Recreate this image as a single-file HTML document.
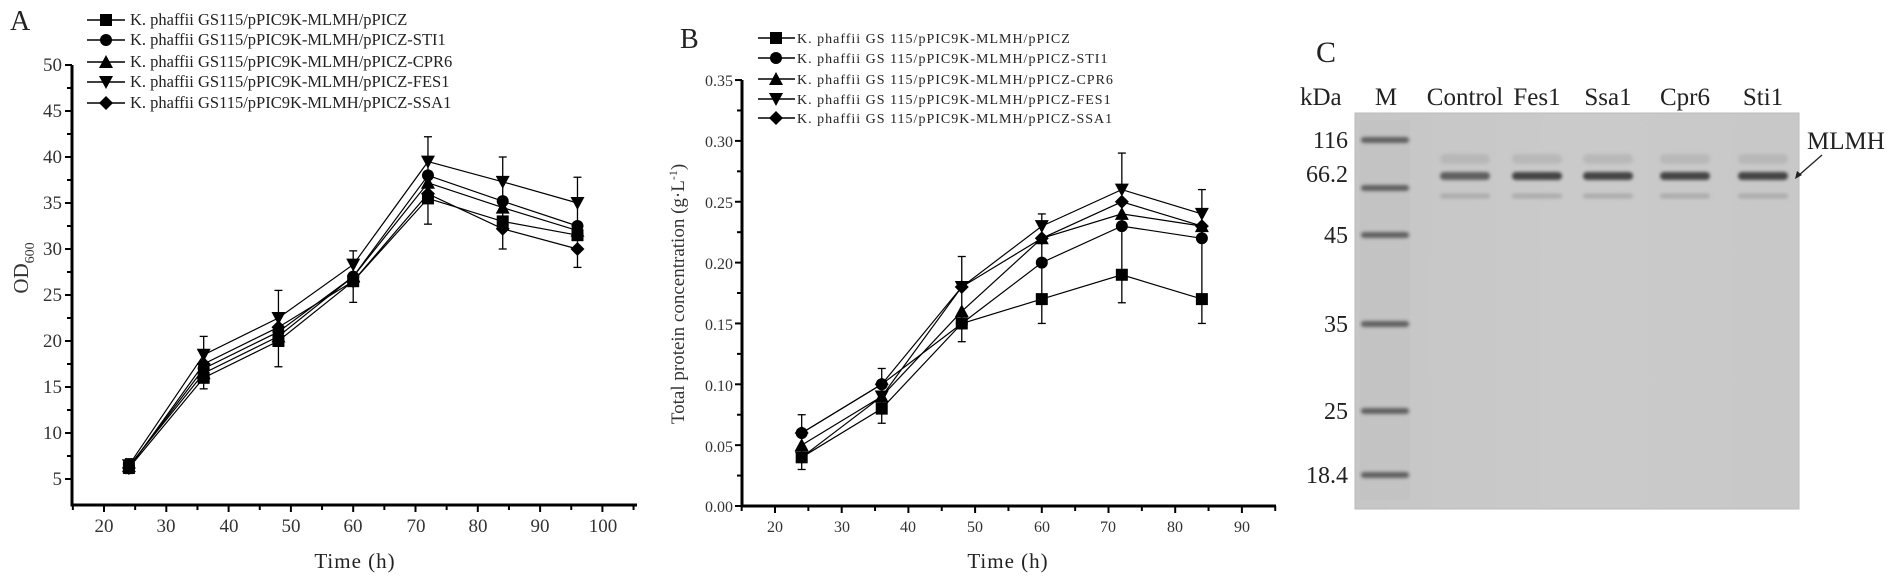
<!DOCTYPE html>
<html><head><meta charset="utf-8"><style>
html,body{margin:0;padding:0;background:#fff;}
svg{display:block;font-family:"Liberation Serif",serif;}
</style></head><body>
<svg id="s" width="1900" height="582" viewBox="0 0 1900 582" xmlns="http://www.w3.org/2000/svg">
<defs>
<linearGradient id="gel" x1="0" y1="0" x2="1" y2="0">
<stop offset="0" stop-color="#c6c6c6"/><stop offset="0.5" stop-color="#cacaca"/><stop offset="1" stop-color="#c8c8c8"/>
</linearGradient>
<filter id="blur" x="-20%" y="-100%" width="140%" height="300%"><feGaussianBlur stdDeviation="1.6"/></filter>
</defs>
<g id="plots" stroke="#000" fill="none"></g>

<!-- Panel A text -->
<text x="10" y="30" font-size="28" fill="#222">A</text>
<g font-size="19" fill="#333" text-anchor="end">
<text x="62" y="71">50</text><text x="62" y="117">45</text><text x="62" y="163">40</text><text x="62" y="209">35</text><text x="62" y="255">30</text><text x="62" y="301">25</text><text x="62" y="347">20</text><text x="62" y="393">15</text><text x="62" y="439">10</text><text x="62" y="485">5</text>
</g>
<g font-size="19" fill="#333" text-anchor="middle">
<text x="104" y="532">20</text><text x="166" y="532">30</text><text x="229" y="532">40</text><text x="291" y="532">50</text><text x="353" y="532">60</text><text x="416" y="532">70</text><text x="478" y="532">80</text><text x="540" y="532">90</text><text x="603" y="532">100</text>
</g>
<text x="355" y="568" font-size="21" fill="#222" text-anchor="middle" letter-spacing="1">Time  (h)</text>
<text transform="translate(28,268) rotate(-90)" font-size="21" fill="#333" text-anchor="middle">OD<tspan font-size="14" dy="6">600</tspan></text>
<g font-size="16.5" fill="#222">
<text x="130" y="25">K. phaffii GS115/pPIC9K-MLMH/pPICZ</text>
<text x="130" y="45">K. phaffii GS115/pPIC9K-MLMH/pPICZ-STI1</text>
<text x="130" y="67">K. phaffii GS115/pPIC9K-MLMH/pPICZ-CPR6</text>
<text x="130" y="87">K. phaffii GS115/pPIC9K-MLMH/pPICZ-FES1</text>
<text x="130" y="108">K. phaffii GS115/pPIC9K-MLMH/pPICZ-SSA1</text>
</g>

<!-- Panel B text -->
<text x="680" y="48" font-size="28" fill="#222">B</text>
<g font-size="16" fill="#333" text-anchor="end">
<text x="733" y="86">0.35</text><text x="733" y="147">0.30</text><text x="733" y="208">0.25</text><text x="733" y="269">0.20</text><text x="733" y="330">0.15</text><text x="733" y="391">0.10</text><text x="733" y="452">0.05</text><text x="733" y="512">0.00</text>
</g>
<g font-size="16" fill="#333" text-anchor="middle">
<text x="775" y="532">20</text><text x="842" y="532">30</text><text x="908" y="532">40</text><text x="975" y="532">50</text><text x="1042" y="532">60</text><text x="1108" y="532">70</text><text x="1175" y="532">80</text><text x="1242" y="532">90</text>
</g>
<text x="1008" y="568" font-size="21" fill="#222" text-anchor="middle" letter-spacing="1">Time  (h)</text>
<text transform="translate(684,294) rotate(-90)" font-size="19" fill="#333" text-anchor="middle">Total protein concentration  (g·L<tspan font-size="12" dy="-7">-1</tspan><tspan dy="7">)</tspan></text>
<g font-size="14" fill="#222" letter-spacing="1">
<text x="797" y="43">K. phaffii GS 115/pPIC9K-MLMH/pPICZ</text>
<text x="797" y="63">K. phaffii GS 115/pPIC9K-MLMH/pPICZ-STI1</text>
<text x="797" y="84">K. phaffii GS 115/pPIC9K-MLMH/pPICZ-CPR6</text>
<text x="797" y="104">K. phaffii GS 115/pPIC9K-MLMH/pPICZ-FES1</text>
<text x="797" y="123">K. phaffii GS 115/pPIC9K-MLMH/pPICZ-SSA1</text>
</g>

<!-- Panel C gel -->
<rect x="1355" y="113" width="444" height="396" fill="url(#gel)"/>
<rect x="1355" y="113" width="444" height="396" fill="none" stroke="#bbb" stroke-width="1"/>
<g id="bands"></g>
<text x="1316" y="62" font-size="30" fill="#222">C</text>
<g font-size="25" fill="#222">
<text x="1300" y="105">kDa</text>
<text x="1386" y="105" text-anchor="middle">M</text>
<text x="1465" y="105" text-anchor="middle">Control</text>
<text x="1537" y="105" text-anchor="middle">Fes1</text>
<text x="1608" y="105" text-anchor="middle">Ssa1</text>
<text x="1685" y="105" text-anchor="middle">Cpr6</text>
<text x="1763" y="105" text-anchor="middle">Sti1</text>
</g>
<g font-size="24" fill="#222" text-anchor="end">
<text x="1348" y="148">116</text>
<text x="1348" y="182">66.2</text>
<text x="1348" y="243">45</text>
<text x="1348" y="332">35</text>
<text x="1348" y="419">25</text>
<text x="1348" y="483">18.4</text>
</g>
<text x="1807" y="149" font-size="25" fill="#222">MLMH</text>
<line x1="1822" y1="155" x2="1798" y2="176" stroke="#222" stroke-width="1.3"/>
<path d="M1795,179 L1797,171 L1802,175 Z" fill="#222"/>

<script>
(function(){
var NS="http://www.w3.org/2000/svg";
var g=document.getElementById('plots');
function el(n,a,p){var e=document.createElementNS(NS,n);for(var k in a)e.setAttribute(k,a[k]);(p||g).appendChild(e);return e;}
function line(x1,y1,x2,y2,w){el('line',{x1:x1,y1:y1,x2:x2,y2:y2,'stroke-width':w||1.2});}
function marker(t,x,y,s){s=s||6;
 if(t==0) el('rect',{x:x-s,y:y-s,width:2*s,height:2*s,fill:'#000',stroke:'none'});
 else if(t==1) el('circle',{cx:x,cy:y,r:s,fill:'#000',stroke:'none'});
 else if(t==2) el('path',{d:'M'+x+','+(y-s-1)+'L'+(x+s+1)+','+(y+s)+'L'+(x-s-1)+','+(y+s)+'Z',fill:'#000',stroke:'none'});
 else if(t==3) el('path',{d:'M'+x+','+(y+s+1)+'L'+(x+s+1)+','+(y-s)+'L'+(x-s-1)+','+(y-s)+'Z',fill:'#000',stroke:'none'});
 else el('path',{d:'M'+x+','+(y-s-1)+'L'+(x+s+1)+','+y+'L'+x+','+(y+s+1)+'L'+(x-s-1)+','+y+'Z',fill:'#000',stroke:'none'});
}
function axes(x0,x1,y0,y1,xt,yt){
 line(x0,y0,x0,y1,3);line(x0-1.5,y1,x1,y1,3);
 yt.forEach(function(t){line(x0-(t[1]?7:5),t[0],x0,t[0],2);});
 xt.forEach(function(t){line(t[0],y1,t[0],y1+(t[1]?7:5),2);});
}
var xA=function(v){return 104+(v-20)*6.23;}, yA=function(v){return 479-(v-5)*9.2;};
var yt=[],xt=[];
for(var v=5;v<=50;v+=2.5)yt.push([yA(v),v%5==0]);
for(var v=15;v<=105;v+=5)xt.push([xA(v),v%10==0]);
axes(72,637,65,505,xt,yt);
var X=[24,36,48,60,72,84,96];
var A=[[6.2,16,20,26.5,35.5,33,31.5],[6.3,17,21,27,38,35.2,32.5],[6.4,16.5,20.5,27,37.2,34.5,32],[6.5,18.5,22.5,28.3,39.5,37.3,35],[6.2,17.5,21.5,26.5,36,32.2,30]];
var EA=[[5.6,7.2],[14.8,20.5],[17.2,25.5],[24.2,29.8],[32.7,42.2],[30,40],[28,37.8]];
EA.forEach(function(e,i){var x=xA(X[i]);line(x,yA(e[0]),x,yA(e[1]),1.3);line(x-4,yA(e[0]),x+4,yA(e[0]),1.3);line(x-4,yA(e[1]),x+4,yA(e[1]),1.3);});
A.forEach(function(s,k){var d='';s.forEach(function(v,i){d+=(i?'L':'M')+xA(X[i]).toFixed(1)+','+yA(v).toFixed(1);});el('path',{d:d,'stroke-width':1.2});s.forEach(function(v,i){marker(k,xA(X[i]),yA(v),6);});});
[20,40,62,82,103].forEach(function(y,k){line(87,y,125,y,1.5);marker(k,106,y,6);});
var xB=function(v){return 775+(v-20)*6.67;}, yB=function(v){return 506-v*1217;};
yt=[];xt=[];
for(var v=0;v<=0.3501;v+=0.025)yt.push([yB(v),Math.abs(v/0.05-Math.round(v/0.05))<0.01]);
for(var v=15;v<=95;v+=5)xt.push([xB(v),v%10==0]);
axes(742,1276,80,506,xt,yt);
var XB=[24,36,48,60,72,84];
var B=[[0.04,0.08,0.15,0.17,0.19,0.17],[0.06,0.10,0.15,0.20,0.23,0.22],[0.05,0.09,0.16,0.22,0.24,0.23],[0.04,0.09,0.18,0.23,0.26,0.24],[0.06,0.10,0.18,0.22,0.25,0.23]];
var EB=[[0.03,0.075],[0.068,0.113],[0.135,0.205],[0.15,0.24],[0.167,0.29],[0.15,0.26]];
EB.forEach(function(e,i){var x=xB(XB[i]);line(x,yB(e[0]),x,yB(e[1]),1.3);line(x-4,yB(e[0]),x+4,yB(e[0]),1.3);line(x-4,yB(e[1]),x+4,yB(e[1]),1.3);});
B.forEach(function(s,k){var d='';s.forEach(function(v,i){d+=(i?'L':'M')+xB(XB[i]).toFixed(1)+','+yB(v).toFixed(1);});el('path',{d:d,'stroke-width':1.2});s.forEach(function(v,i){marker(k,xB(XB[i]),yB(v),6);});});
[38,58,79,99,118].forEach(function(y,k){line(758,y,795,y,1.5);marker(k,776,y,6);});
var gb=document.getElementById('bands');
function band(x,y,w,h,c,o){el('rect',{x:x,y:y-h/2,width:w,height:h,rx:h/2,fill:c,opacity:o,stroke:'none',filter:'url(#blur)'},gb);}
[140,188,235,324,411,475].forEach(function(y){band(1361,y,48,6,'#2a2a2a',0.95);});
el('rect',{x:1360,y:120,width:50,height:380,fill:'#bdbdbd',opacity:0.35,stroke:'none'},gb);
[1465,1537,1608,1685,1763].forEach(function(x,i){
 band(x-25,159,50,10,'#a8a8a8',0.5);
 band(x-25,176,50,8,i==0?'#5a5a5a':'#3e3e3e',0.95);
 band(x-25,196,50,5,'#9a9a9a',0.6);
});
})();
</script>
</svg>
</body></html>
